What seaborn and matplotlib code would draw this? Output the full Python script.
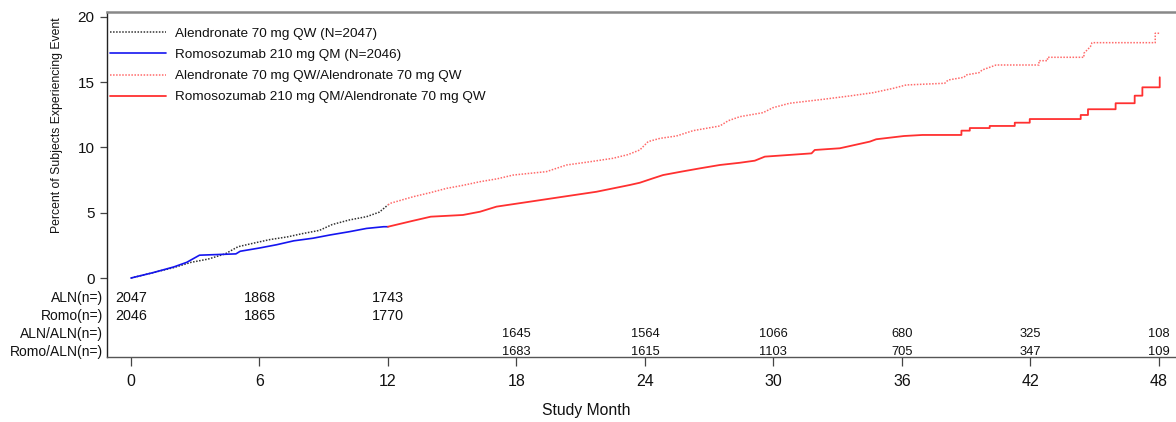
import matplotlib
matplotlib.use("Agg")
import matplotlib.pyplot as plt
from matplotlib import font_manager
import seaborn as sns
import pandas as pd

# ---------------- data ----------------
aln_month = [0, 1.0, 2.0, 2.8, 3.6, 4.4, 5.0, 5.8, 6.5, 7.3, 8.0, 8.8, 9.4, 10.2, 11.0, 11.6, 12.0]
aln_pct = [0, 0.4, 0.8, 1.2, 1.45, 1.85, 2.4, 2.7, 2.95, 3.15, 3.4, 3.65, 4.1, 4.45, 4.7, 5.05, 5.6]

romo_month = [0, 1.0, 2.0, 2.6, 3.2, 4.9, 5.1, 6.0, 6.8, 7.6, 8.5, 9.3, 10.2, 11.0, 11.8, 12.0]
romo_pct = [0, 0.4, 0.85, 1.2, 1.75, 1.85, 2.05, 2.3, 2.55, 2.85, 3.05, 3.3, 3.55, 3.8, 3.93, 3.93]

alnaln_month = [12.0, 12.1, 13.18, 14.0, 14.74, 15.5, 16.3, 17.1, 17.85, 19.4, 20.34, 21.4, 22.5,
                23.2, 23.76, 24.15, 24.7, 25.47, 26.25, 27.5, 27.89, 28.43, 29.52, 29.98, 30.76,
                32.32, 33.57, 34.66, 35.59, 36.2, 38.0, 38.16, 38.9, 39.0, 39.6, 39.75, 40.4,
                42.4, 42.4, 42.8, 42.8, 44.5, 44.5, 44.8, 44.88, 47.83, 47.83, 48.04]
alnaln_pct = [5.6, 5.72, 6.23, 6.55, 6.87, 7.1, 7.38, 7.6, 7.89, 8.15, 8.66, 8.9, 9.17,
              9.45, 9.81, 10.45, 10.7, 10.88, 11.29, 11.65, 12.05, 12.36, 12.67, 13.05, 13.39,
              13.69, 13.95, 14.2, 14.53, 14.79, 14.92, 15.17, 15.38, 15.56, 15.73, 15.94, 16.32,
              16.32, 16.65, 16.65, 16.91, 16.91, 17.22, 17.72, 18.03, 18.03, 18.75, 18.75]

romoaln_month = [12.0, 13.18, 14.0, 15.5, 16.3, 17.07, 18.63, 20.18, 21.74, 23.3, 23.76, 24.38,
                 24.85, 25.7, 26.56, 27.5, 28.43, 29.13, 29.6, 30.22, 31.78, 31.93, 33.1, 33.57,
                 34.5, 34.8, 36.1, 36.96, 38.78, 38.78, 39.17, 39.17, 40.1, 40.1, 41.27, 41.27,
                 41.97, 41.97, 44.35, 44.35, 44.69, 44.69, 45.98, 45.98, 46.87, 46.87, 47.23,
                 47.23, 48.04, 48.04]
romoaln_pct = [3.93, 4.39, 4.7, 4.83, 5.08, 5.47, 5.85, 6.23, 6.61, 7.13, 7.3, 7.64,
               7.89, 8.15, 8.4, 8.66, 8.83, 8.99, 9.3, 9.37, 9.55, 9.81, 9.94, 10.11,
               10.45, 10.63, 10.88, 10.96, 10.96, 11.29, 11.29, 11.49, 11.49, 11.65, 11.65, 11.9,
               11.9, 12.18, 12.18, 12.49, 12.49, 12.93, 12.93, 13.39, 13.39, 13.97, 13.97,
               14.61, 14.61, 15.38]

series_labels = ["Alendronate 70 mg QW (N=2047)",
                 "Romosozumab 210 mg QM (N=2046)",
                 "Alendronate 70 mg QW/Alendronate 70 mg QW",
                 "Romosozumab 210 mg QM/Alendronate 70 mg QW"]

risk_row_labels = ["ALN(n=)", "Romo(n=)", "ALN/ALN(n=)", "Romo/ALN(n=)"]
risk_months_first = [0, 6, 12]
risk_aln = [2047, 1868, 1743]
risk_romo = [2046, 1865, 1770]
risk_months_second = [18, 24, 30, 36, 42, 48]
risk_alnaln = [1645, 1564, 1066, 680, 325, 108]
risk_romoaln = [1683, 1615, 1103, 705, 347, 109]

x_ticks = [0, 6, 12, 18, 24, 30, 36, 42, 48]
y_ticks = [0, 5, 10, 15, 20]

# ---------------- style ----------------
sns.set_theme(style="white")
plt.rcParams['font.family'] = ['Liberation Sans', 'DejaVu Sans']
avail = {f.name for f in font_manager.fontManager.ttflist}
narrow = ['Liberation Sans Narrow', 'Liberation Sans'] if 'Liberation Sans Narrow' in avail else ['Liberation Sans']

fig = plt.figure(figsize=(11.76, 4.22), dpi=100)
ax = fig.add_axes([107 / 1176, 1 - 357 / 422, 1 - 107 / 1176, (357 - 12) / 422])

def draw(months, pct, label, color, ls, lw):
    df = pd.DataFrame({"month": months, "pct": pct})
    sns.lineplot(data=df, x="month", y="pct", ax=ax, color=color, linestyle=ls,
                 linewidth=lw, label=label, estimator=None, sort=False)

draw(aln_month, aln_pct, series_labels[0], "#333333", (0, (1, 1)), 1.1)
draw(romo_month, romo_pct, series_labels[1], "#1515F0", "-", 1.2)
draw(alnaln_month, alnaln_pct, series_labels[2], "#FF6A6A", (0, (1, 1)), 1.1)
draw(romoaln_month, romoaln_pct, series_labels[3], "#FF3030", "-", 1.3)

ax.set_xlim(-1.12, 48.8)
ax.set_ylim(-6.05, 20.38)

# spines
for s in ["left", "bottom", "top"]:
    ax.spines[s].set_visible(True)
    ax.spines[s].set_linewidth(1.0)
ax.spines["left"].set_color("#222222")
ax.spines["bottom"].set_color("#555555")
ax.spines["top"].set_color("#888888")
ax.spines["top"].set_linewidth(1.8)
ax.spines["right"].set_visible(False)

ax.set_yticks(y_ticks)
ax.set_yticklabels([str(v) for v in y_ticks], fontsize=11, color="#111111")
ax.set_xticks(x_ticks)
ax.set_xticklabels([str(v) for v in x_ticks], fontsize=11.5, color="#111111", family=narrow)
ax.tick_params(axis="y", direction="out", length=5, width=0.9, pad=4, left=True, color="#444444")
ax.tick_params(axis="x", direction="out", length=6.5, width=0.9, pad=6, bottom=True, color="#444444")

ax.set_xlabel("Study Month", fontsize=11.3, family=narrow, color="#111111")
ax.xaxis.set_label_coords((586 - 107) / 1069, -0.133)
ax.set_ylabel("Percent of Subjects Experiencing Event", fontsize=8.8, color="#111111")
ax.yaxis.set_label_coords(-0.0415, (357 - 125) / 345)

# risk table
row_y = [-1.5, -2.9, -4.3, -5.68]
for lab, yv in zip(risk_row_labels, row_y):
    ax.text(-1.12 - 0.2, yv, lab, ha="right", va="center", fontsize=10, color="#111111",
            clip_on=False)
for m, a, r in zip(risk_months_first, risk_aln, risk_romo):
    ax.text(m, row_y[0], str(a), ha="center", va="center", fontsize=10.4, color="#111111")
    ax.text(m, row_y[1], str(r), ha="center", va="center", fontsize=10.4, color="#111111")
for m, a, r in zip(risk_months_second, risk_alnaln, risk_romoaln):
    ax.text(m, row_y[2], str(a), ha="center", va="center", fontsize=9.3, color="#111111",
            family=narrow)
    ax.text(m, row_y[3], str(r), ha="center", va="center", fontsize=9.3, color="#111111",
            family=narrow)

leg = ax.legend(loc="upper left", bbox_to_anchor=(-0.0115, 1.0), frameon=False, fontsize=9.7,
                handlelength=4.15, handletextpad=0.67, labelspacing=0.65, borderaxespad=0.75,
                borderpad=0.4)
for t in leg.get_texts():
    t.set_color("#111111")

fig.savefig("out.png", dpi=100)
